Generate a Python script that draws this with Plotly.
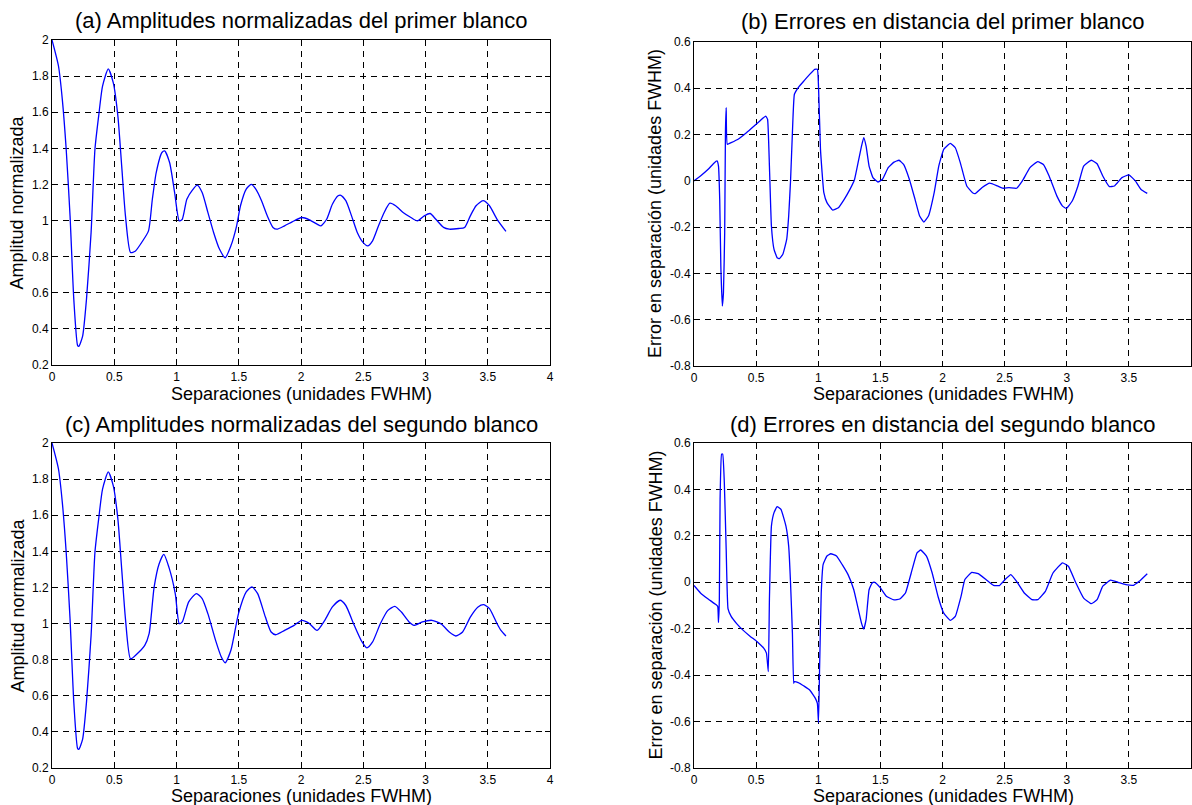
import plotly.graph_objects as go

W, H = 1192, 805

# ---------------- data ----------------
xa = [0, 0.052, 0.083, 0.114, 0.145, 0.175, 0.206, 0.215, 0.246, 0.277, 0.314, 0.345, 0.375, 0.406, 0.452, 0.492,
      0.529, 0.56, 0.59, 0.631, 0.668, 0.729, 0.775, 0.806, 0.837, 0.883, 0.905, 0.945, 0.985, 1.022, 1.046, 1.083,
      1.129, 1.166, 1.206, 1.252, 1.298, 1.345, 1.391, 1.437, 1.483, 1.514, 1.56, 1.60, 1.637, 1.683, 1.729, 1.775,
      1.806, 1.868, 1.929, 2.006, 2.068, 2.129, 2.16, 2.206, 2.252, 2.298, 2.32, 2.36, 2.406, 2.452, 2.498, 2.535,
      2.575, 2.622, 2.668, 2.714, 2.76, 2.82, 2.883, 2.935, 2.99, 3.037, 3.083, 3.145, 3.191, 3.268, 3.314, 3.36,
      3.406, 3.462, 3.514, 3.575, 3.646]
ya = [2.0, 1.856, 1.67, 1.395, 1.026, 0.565, 0.307, 0.303, 0.36, 0.565, 0.934, 1.395, 1.58, 1.745, 1.84, 1.764,
      1.58, 1.30, 1.026, 0.823, 0.83, 0.888, 0.943, 1.118, 1.266, 1.377, 1.386, 1.32, 1.155, 0.998, 1.007, 1.118,
      1.17, 1.196, 1.155, 1.045, 0.934, 0.842, 0.794, 0.86, 0.971, 1.082, 1.174, 1.20, 1.174, 1.11, 1.026, 0.962,
      0.952, 0.971, 0.993, 1.017, 1.004, 0.98, 0.97, 1.007, 1.09, 1.137, 1.14, 1.11, 1.026, 0.934, 0.879, 0.86,
      0.888, 0.97, 1.045, 1.096, 1.082, 1.045, 1.017, 0.998, 1.026, 1.039, 1.007, 0.962, 0.952, 0.956, 0.962, 1.026,
      1.082, 1.11, 1.082, 1.007, 0.94]

xb = [0, 0.052, 0.114, 0.16, 0.185, 0.197, 0.207, 0.216, 0.228, 0.237, 0.247, 0.253, 0.259, 0.268, 0.299, 0.361,
      0.422, 0.484, 0.53, 0.577, 0.592, 0.607, 0.623, 0.644, 0.669, 0.688, 0.715, 0.746, 0.762, 0.777, 0.792, 0.808,
      0.839, 0.885, 0.931, 0.971, 0.993, 1.002, 1.018, 1.045, 1.07, 1.116, 1.162, 1.209, 1.255, 1.292, 1.326, 1.348,
      1.366, 1.385, 1.409, 1.44, 1.48, 1.517, 1.563, 1.61, 1.65, 1.687, 1.733, 1.779, 1.816, 1.85, 1.887, 1.933,
      1.97, 2.01, 2.063, 2.103, 2.143, 2.195, 2.242, 2.263, 2.319, 2.38, 2.442, 2.488, 2.535, 2.596, 2.643, 2.704,
      2.766, 2.812, 2.858, 2.92, 2.966, 2.997, 3.044, 3.09, 3.136, 3.198, 3.244, 3.29, 3.343, 3.383, 3.444, 3.5,
      3.552, 3.598, 3.648]
yb = [0.0, 0.021, 0.05, 0.076, 0.086, 0.064, -0.08, -0.368, -0.541, -0.483, -0.224, 0.208, 0.316, 0.158, 0.165,
      0.182, 0.208, 0.237, 0.259, 0.28, 0.266, 0.064, -0.195, -0.296, -0.332, -0.336, -0.317, -0.253, -0.152, 0.0,
      0.208, 0.374, 0.403, 0.432, 0.46, 0.482, 0.482, 0.41, 0.136, -0.051, -0.094, -0.126, -0.116, -0.08, -0.037,
      0.006, 0.093, 0.15, 0.187, 0.15, 0.064, 0.014, -0.005, 0.007, 0.057, 0.081, 0.089, 0.071, 0.007, -0.08,
      -0.152, -0.178, -0.152, -0.051, 0.064, 0.136, 0.162, 0.143, 0.079, -0.022, -0.051, -0.055, -0.029, -0.01,
      -0.022, -0.032, -0.029, -0.032, 0.0, 0.057, 0.083, 0.071, 0.021, -0.065, -0.109, -0.119, -0.087, -0.022,
      0.064, 0.089, 0.074, 0.021, -0.025, -0.022, 0.014, 0.026, 0.0, -0.037, -0.054]

xc = [0, 0.052, 0.083, 0.114, 0.145, 0.175, 0.206, 0.215, 0.246, 0.277, 0.314, 0.345, 0.375, 0.406, 0.452, 0.492,
      0.529, 0.56, 0.59, 0.631, 0.68, 0.745, 0.78, 0.82, 0.86, 0.898, 0.94, 0.99, 1.022, 1.046, 1.098, 1.16, 1.206,
      1.252, 1.314, 1.36, 1.391, 1.437, 1.498, 1.56, 1.606, 1.652, 1.714, 1.76, 1.797, 1.868, 1.945, 2.006, 2.062,
      2.129, 2.191, 2.252, 2.314, 2.36, 2.422, 2.483, 2.529, 2.575, 2.637, 2.698, 2.754, 2.806, 2.868, 2.908, 2.975,
      3.052, 3.129, 3.191, 3.243, 3.298, 3.36, 3.422, 3.468, 3.514, 3.575, 3.606, 3.646]
yc = [2.0, 1.856, 1.67, 1.395, 1.026, 0.565, 0.307, 0.303, 0.36, 0.565, 0.934, 1.395, 1.58, 1.745, 1.84, 1.764,
      1.58, 1.30, 1.026, 0.804, 0.83, 0.879, 0.944, 1.2, 1.33, 1.383, 1.31, 1.166, 1.0, 1.009, 1.12, 1.166, 1.138,
      1.055, 0.907, 0.815, 0.783, 0.852, 1.055, 1.175, 1.203, 1.166, 1.036, 0.953, 0.938, 0.962, 0.99, 1.018, 1.003,
      0.962, 1.018, 1.092, 1.129, 1.1, 0.999, 0.907, 0.865, 0.898, 0.999, 1.073, 1.095, 1.064, 1.009, 0.99, 1.009,
      1.018, 0.996, 0.953, 0.931, 0.953, 1.036, 1.092, 1.105, 1.083, 0.999, 0.962, 0.931]

xd = [0, 0.052, 0.114, 0.176, 0.191, 0.197, 0.204, 0.21, 0.222, 0.231, 0.244, 0.259, 0.274, 0.299, 0.345, 0.392,
      0.453, 0.515, 0.561, 0.583, 0.598, 0.607, 0.623, 0.644, 0.669, 0.7, 0.74, 0.762, 0.777, 0.792, 0.802, 0.808,
      0.839, 0.885, 0.931, 0.977, 0.993, 1.002, 1.011, 1.024, 1.039, 1.07, 1.101, 1.147, 1.193, 1.24, 1.286, 1.317,
      1.348, 1.366, 1.385, 1.409, 1.434, 1.455, 1.502, 1.548, 1.61, 1.656, 1.702, 1.748, 1.795, 1.825, 1.871, 1.917,
      1.964, 2.01, 2.063, 2.103, 2.149, 2.18, 2.236, 2.288, 2.35, 2.411, 2.458, 2.504, 2.55, 2.596, 2.658, 2.72,
      2.766, 2.828, 2.889, 2.966, 3.013, 3.074, 3.136, 3.198, 3.244, 3.29, 3.352, 3.413, 3.475, 3.537, 3.583, 3.648]
yd = [-0.014, -0.046, -0.072, -0.096, -0.104, -0.173, -0.075, 0.358, 0.552, 0.552, 0.43, 0.142, -0.115, -0.147,
      -0.179, -0.205, -0.233, -0.259, -0.284, -0.305, -0.385, -0.075, 0.242, 0.3, 0.326, 0.314, 0.242, 0.156,
      -0.003, -0.219, -0.435, -0.428, -0.432, -0.447, -0.464, -0.5, -0.522, -0.605, -0.363, -0.046, 0.076, 0.113,
      0.123, 0.113, 0.076, 0.033, -0.032, -0.104, -0.176, -0.202, -0.161, -0.032, -0.003, 0.0, -0.025, -0.06,
      -0.076, -0.072, -0.046, 0.04, 0.127, 0.139, 0.113, 0.04, -0.061, -0.133, -0.164, -0.147, -0.061, 0.012, 0.043,
      0.037, 0.012, -0.013, -0.014, 0.012, 0.033, 0.004, -0.046, -0.075, -0.075, -0.039, 0.04, 0.084, 0.069, -0.003,
      -0.068, -0.092, -0.075, -0.017, 0.009, 0.0, -0.01, -0.013, 0.004, 0.037]

x_ticks = [0, 0.5, 1, 1.5, 2, 2.5, 3, 3.5, 4]
x_ticklabels = ["0", "0.5", "1", "1.5", "2", "2.5", "3", "3.5", "4"]
amp_ticks = [0.2, 0.4, 0.6, 0.8, 1.0, 1.2, 1.4, 1.6, 1.8, 2.0]
amp_ticklabels = ["0.2", "0.4", "0.6", "0.8", "1", "1.2", "1.4", "1.6", "1.8", "2"]
err_ticks = [-0.8, -0.6, -0.4, -0.2, 0, 0.2, 0.4, 0.6]
err_ticklabels = ["-0.8", "-0.6", "-0.4", "-0.2", "0", "0.2", "0.4", "0.6"]

titles = ["(a) Amplitudes normalizadas del primer blanco",
          "(b) Errores en distancia del primer blanco",
          "(c) Amplitudes normalizadas del segundo blanco",
          "(d) Errores en distancia del segundo blanco"]
xlabel = "Separaciones (unidades FWHM)"
ylabels = ["Amplitud normalizada", "Error en separación (unidades FWHM)",
           "Amplitud normalizada", "Error en separación (unidades FWHM)"]

# ---------------- layout geometry (pixels) ----------------
FONT = "Arial, Liberation Sans, sans-serif"
# (left, right, top, bottom) in pixels for each panel
boxes = [(52, 550, 40, 365), (694, 1191, 42, 366), (52, 550, 443, 768), (694, 1191, 443, 768)]
title_y = [21, 22, 424, 424]
xlabel_y = [394, 394, 796, 796]
ylabel_x = [17, 655, 17, 655]

series = [(xa, ya, "spline", 0.6), (xb, yb, "spline", 0.35), (xc, yc, "spline", 0.6), (xd, yd, "spline", 0.35)]

fig = go.Figure()
for i, (xs, ys, shp, sm) in enumerate(series):
    n = "" if i == 0 else str(i + 1)
    fig.add_trace(go.Scatter(x=xs, y=ys, mode="lines", xaxis="x" + n, yaxis="y" + n,
                             line=dict(color="#0000ff", width=1.3, shape=shp, smoothing=sm),
                             showlegend=False, hoverinfo="x+y"))

axis_common = dict(showline=True, linecolor="black", linewidth=1, mirror="ticks",
                   ticks="inside", ticklen=5, tickcolor="black", tickwidth=1,
                   showgrid=True, gridcolor="black", gridwidth=1, griddash="6px,5px",
                   zeroline=False, tickfont=dict(family=FONT, size=12, color="black"),
                   automargin=False, fixedrange=True)

layout = dict(width=W, height=H, margin=dict(l=0, r=0, t=0, b=0, autoexpand=False),
              paper_bgcolor="white", plot_bgcolor="white", showlegend=False,
              font=dict(family=FONT, color="black"))
annotations = []
for i, (l, r, t, b) in enumerate(boxes):
    n = "" if i == 0 else str(i + 1)
    xdom = [l / W, min(r / W, 1.0)]
    ydom = [1 - b / H, 1 - t / H]
    is_amp = i in (0, 2)
    layout["xaxis" + n] = dict(axis_common, domain=xdom, anchor="y" + n, range=[0, 4],
                               tickmode="array", tickvals=x_ticks, ticktext=x_ticklabels,
                               ticklabelstandoff=1)
    layout["yaxis" + n] = dict(axis_common, domain=ydom, anchor="x" + n,
                               range=[0.2, 2.0] if is_amp else [-0.8, 0.6],
                               tickmode="array",
                               tickvals=amp_ticks if is_amp else err_ticks,
                               ticktext=amp_ticklabels if is_amp else err_ticklabels)
    cx = (301 if is_amp else 943) / W
    annotations.append(dict(text=titles[i], xref="paper", yref="paper", x=cx, y=1 - title_y[i] / H,
                            xanchor="center", yanchor="middle", showarrow=False,
                            font=dict(family=FONT, size=22, color="black")))
    annotations.append(dict(text=xlabel, xref="paper", yref="paper", x=cx, y=1 - xlabel_y[i] / H,
                            xanchor="center", yanchor="middle", showarrow=False,
                            font=dict(family=FONT, size=18, color="black")))
    annotations.append(dict(text=ylabels[i], xref="paper", yref="paper", x=ylabel_x[i] / W,
                            y=1 - (t + b) / 2 / H, xanchor="center", yanchor="middle",
                            textangle=-90, showarrow=False,
                            font=dict(family=FONT, size=18, color="black")))
layout["annotations"] = annotations
fig.update_layout(**layout)

fig.write_html("out.html")
